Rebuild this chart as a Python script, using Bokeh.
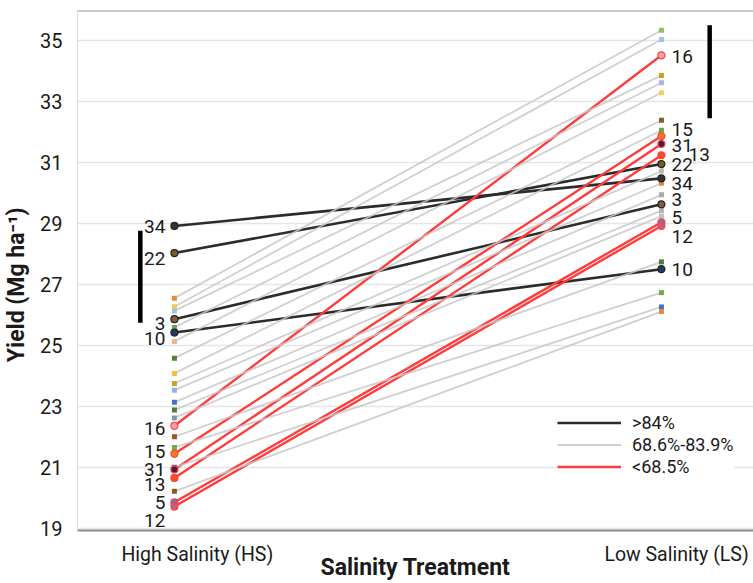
from bokeh.plotting import figure
from bokeh.models import (ColumnDataSource, FixedTicker, Legend, LegendItem,
                          Range1d, Span)
from bokeh.embed import file_html
from bokeh.resources import INLINE
from bokeh.core.properties import value

FONT = "Roboto"

# ---- data -------------------------------------------------------------
treatments = ["High Salinity (HS)", "Low Salinity (LS)"]
y_ticks = [19, 21, 23, 25, 27, 29, 31, 33, 35]
x_title = "Salinity Treatment"
y_title = "Yield (Mg ha\u207b\u00b9)"

# labelled genotypes
named_ids = ["34", "22", "3", "10", "16", "15", "31", "13", "5", "12"]
named_group = [">84%", ">84%", ">84%", ">84%",
               "<68.5%", "<68.5%", "<68.5%", "<68.5%", "<68.5%", "<68.5%"]
named_hs = [28.93, 28.04, 25.87, 25.43, 22.37, 21.45, 20.94, 20.66, 19.86, 19.72]
named_ls = [30.49, 30.96, 29.64, 27.51, 34.53, 31.88, 31.62, 31.25, 29.05, 28.93]
named_color = ["#333333", "#7a5c1e", "#8b5a3c", "#1f3b6b", "#f4a6b0",
               "#f07f1e", "#4b1a4b", "#f0502a", "#5a7fc0", "#c06080"]

# unlabelled genotypes (68.6%-83.9%)
other_hs = [26.56, 26.28, 26.14, 25.60, 25.14, 24.59, 24.09, 23.76,
            23.54, 23.14, 22.89, 22.63, 22.01, 21.66, 21.01, 20.22]
other_ls = [35.35, 35.05, 33.87, 33.63, 33.30, 32.40, 32.07, 30.73,
            30.33, 29.95, 29.43, 29.25, 27.75, 26.74, 26.27, 26.12]
other_hs_color = ["#e8893a", "#f2c94c", "#9ec5e8", "#6aa84f", "#f4b183", "#548235",
                  "#f2c030", "#c9a227", "#8fb4e3", "#4472c4", "#4e7d3a", "#8497b0",
                  "#a0522d", "#70ad47", "#4f6fb0", "#8b5a2b"]
other_ls_color = ["#8fbf6a", "#9ec5e8", "#c9a227", "#a9b4e0", "#f2d060", "#8b5a2b",
                  "#6aa84f", "#bbbbbb", "#e8893a", "#aaaaaa", "#b5b5b5", "#c0c0c0",
                  "#4e7d3a", "#70ad47", "#4472c4", "#e8893a"]

# significance bars (yield range spanned)
bar_hs = [25.75, 28.77]
bar_ls = [32.46, 35.52]

legend_labels = [">84%", "68.6%-83.9%", "<68.5%"]

# ---- styling (pixel offsets for labels) ---------------------------------
left_dy = [1, 5, 4, 6, 3, -2, 0, 7, 0, 14]
right_dy = [5.5, 0, -4.5, 0, 1, -7, 2, -1, -4.5, 11]
right_dx = [10, 10, 10, 10, 10, 10, 10, 27, 10, 10]

X_HS, X_LS = 0.0, 1.0

p = figure(width=753, height=583, output_backend="svg", toolbar_location=None,
           x_range=Range1d(-0.199, 1.189), y_range=Range1d(18.934, 36.0),
           min_border_left=77, min_border_right=0, min_border_top=10,
           min_border_bottom=53)
p.outline_line_color = None
p.background_fill_color = "white"
p.border_fill_color = "white"

# grid
p.xgrid.grid_line_color = None
p.ygrid.grid_line_color = "#e6e6e6"
p.ygrid.grid_line_width = 1.5
p.yaxis.ticker = FixedTicker(ticks=y_ticks)

# axes
tick_pos = [0.047, 1.031]
p.xaxis.ticker = FixedTicker(ticks=tick_pos)
p.xaxis.major_label_overrides = {tick_pos[0]: treatments[0], tick_pos[1]: treatments[1]}
for ax in (p.xaxis[0], p.yaxis[0]):
    ax.major_tick_line_color = None
    ax.minor_tick_line_color = None
    ax.major_label_text_font = FONT
    ax.major_label_text_color = "#1a1a1a"
    ax.axis_label_text_font = FONT
    ax.axis_label_text_font_style = "bold"
    ax.axis_label_text_font_size = "23px"
    ax.axis_label_text_color = "#1a1a1a"
p.xaxis.major_label_text_font_size = "19.5px"
p.yaxis.major_label_text_font_size = "20px"
p.xaxis.major_label_standoff = 6
p.yaxis.major_label_standoff = 9
p.xaxis.axis_line_color = "#8c8c8c"
p.xaxis.axis_line_width = 2
p.yaxis.axis_line_color = "#dcdcdc"
p.yaxis.axis_line_width = 1
p.xaxis.axis_label = x_title
p.xaxis.axis_label_standoff = -15
p.yaxis.axis_label = y_title + "\u00a0" * 5
p.yaxis.axis_label_standoff = 7

p.add_layout(Span(location=36.0, dimension="width", line_color="#9a9a9a", line_width=2))

# ---- lines --------------------------------------------------------------
hi_x, hi_y, lo_x, lo_y = [], [], [], []
for hs, ls, g in zip(named_hs, named_ls, named_group):
    if g == ">84%":
        hi_x.append([X_HS, X_LS]); hi_y.append([hs, ls])
    else:
        lo_x.append([X_HS, X_LS]); lo_y.append([hs, ls])
mid_x = [[X_HS, X_LS] for _ in other_hs]
mid_y = [[a, b] for a, b in zip(other_hs, other_ls)]

r_hi = p.multi_line(hi_x, hi_y, line_color="#2b2b2b", line_width=2.6)
r_lo = p.multi_line(lo_x, lo_y, line_color="#ff3b3b", line_width=2.4)
r_mid = p.multi_line(mid_x, mid_y, line_color="#c8c8c8", line_width=1.8, line_alpha=0.85)

# ---- points -------------------------------------------------------------
p.scatter([X_HS] * len(other_hs), other_hs, size=5, marker="square",
          color=other_hs_color, line_color=None)
p.scatter([X_LS] * len(other_ls), other_ls, size=5, marker="square",
          color=other_ls_color, line_color=None)
outline = ["#222222" if g == ">84%" else "#ff4040" for g in named_group]
p.scatter([X_HS] * len(named_hs), named_hs, size=7, color=named_color,
          line_color=outline, line_width=1.2)
p.scatter([X_LS] * len(named_ls), named_ls, size=7, color=named_color,
          line_color=outline, line_width=1.2)

# significance bars
p.segment(x0=[-0.07], y0=[bar_hs[0]], x1=[-0.07], y1=[bar_hs[1]],
          line_color="black", line_width=4.5)
p.segment(x0=[1.099], y0=[bar_ls[0]], x1=[1.099], y1=[bar_ls[1]],
          line_color="black", line_width=4.5)

# ---- labels -------------------------------------------------------------
src_l = ColumnDataSource(dict(x=[X_HS] * len(named_hs), y=named_hs, t=named_ids, dy=left_dy))
src_r = ColumnDataSource(dict(x=[X_LS] * len(named_ls), y=named_ls, t=named_ids,
                              dy=right_dy, dx=right_dx))
p.text("x", "y", text="t", source=src_l, x_offset=-9, y_offset="dy",
       text_align="right", text_baseline="middle", text_font=value(FONT),
       text_font_size="19px", text_color="#1a1a1a")
p.text("x", "y", text="t", source=src_r, x_offset="dx", y_offset="dy",
       text_align="left", text_baseline="middle", text_font=value(FONT),
       text_font_size="19px", text_color="#1a1a1a")

# ---- legend -------------------------------------------------------------
legend = Legend(items=[LegendItem(label=legend_labels[0], renderers=[r_hi]),
                       LegendItem(label=legend_labels[1], renderers=[r_mid]),
                       LegendItem(label=legend_labels[2], renderers=[r_lo])],
                location=(480, 53), border_line_color=None,
                background_fill_color="white", background_fill_alpha=1.0,
                label_text_font=FONT, label_text_font_size="18px",
                label_text_line_height=1.0,
                label_text_color="#1a1a1a", glyph_width=64, glyph_height=21,
                label_height=21, spacing=1, padding=6, margin=0, label_standoff=11)
p.add_layout(legend)

open("out.html", "w").write(file_html(p, INLINE))
